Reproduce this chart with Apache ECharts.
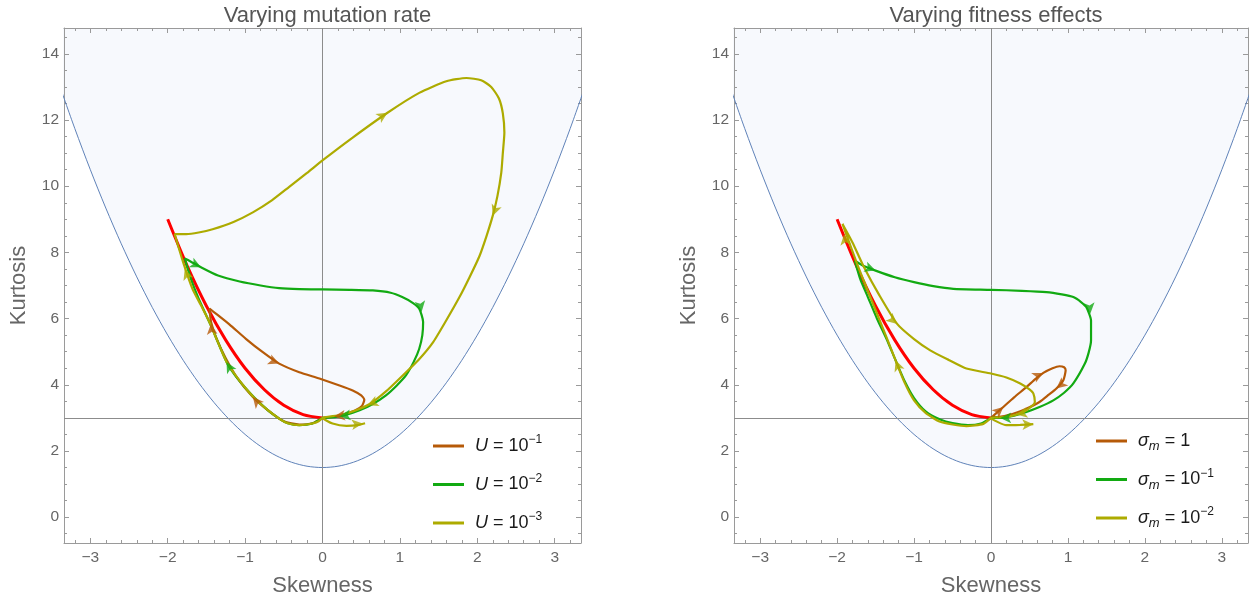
<!DOCTYPE html>
<html><head><meta charset="utf-8">
<script src="https://cdn.jsdelivr.net/npm/echarts@6/dist/echarts.min.js"></script>
<style>html,body{margin:0;padding:0;background:#fff}#c{width:1253px;height:602px}</style>
</head><body><div id="c"></div>
<script>
// ---------- data ----------
const xTickLabels = [-3, -2, -1, 0, 1, 2, 3];
const yTickLabels = [0, 2, 4, 6, 8, 10, 12, 14];
const panelTitles = ['Varying mutation rate', 'Varying fitness effects'];

// lower bound of the admissible region (kurtosis vs skewness)
const boundarySkew = [-3.4,-3.2,-3.0,-2.8,-2.6,-2.4,-2.2,-2.0,-1.8,-1.6,-1.4,-1.2,-1.0,-0.8,-0.6,-0.4,-0.2,0,0.2,0.4,0.6,0.8,1.0,1.2,1.4,1.6,1.8,2.0,2.2,2.4,2.6,2.8,3.0,3.2,3.4];
const boundaryKurt = [13.06,11.74,10.5,9.34,8.26,7.26,6.34,5.5,4.74,4.06,3.46,2.94,2.5,2.14,1.86,1.66,1.54,1.5,1.54,1.66,1.86,2.14,2.5,2.94,3.46,4.06,4.74,5.5,6.34,7.26,8.26,9.34,10.5,11.74,13.06];

// red reference curve
const redSkew = [-2.0,-1.75,-1.5,-1.25,-1.0,-0.75,-0.5,-0.25,0];
const redKurt = [9.0,7.6,6.38,5.35,4.5,3.85,3.38,3.1,3.0];

// left panel trajectories [skewness, kurtosis]
const leftBrown = [[0,3],[-0.13,2.84],[-0.3,2.8],[-0.5,2.9],[-0.7,3.22],[-0.9,3.63],[-1.1,4.2],[-1.25,4.8],[-1.37,5.4],[-1.44,5.9],[-1.46,6.3],
  [-1.36,6.12],[-1.2,5.82],[-0.99,5.39],[-0.78,5.0],[-0.56,4.64],[-0.3,4.38],[-0.04,4.19],[0.22,3.98],[0.39,3.83],[0.5,3.68],[0.54,3.55],[0.51,3.36],[0.42,3.22],[0.31,3.13],[0.15,3.04],[0,3]];
const leftGreen = [[0,3],[-0.13,2.83],[-0.3,2.78],[-0.45,2.84],[-0.56,2.98],[-0.73,3.28],[-0.99,3.89],[-1.22,4.6],[-1.44,5.78],[-1.6,6.6],[-1.7,7.2],[-1.78,7.82],
  [-1.7,7.72],[-1.57,7.55],[-1.35,7.3],[-1.07,7.12],[-0.8,7.0],[-0.56,6.92],[-0.3,6.89],[0,6.88],[0.35,6.87],[0.65,6.85],[0.88,6.78],[1.03,6.65],[1.17,6.47],[1.25,6.3],[1.3,5.9],[1.29,5.5],[1.25,5.09],[1.18,4.7],[1.08,4.29],[0.96,3.98],[0.82,3.68],[0.65,3.42],[0.48,3.23],[0.3,3.09],[0.18,3.03],[0,3]];
const leftOlive = [[0,3],[-0.05,2.9],[-0.13,2.83],[-0.3,2.78],[-0.45,2.84],[-0.56,2.98],[-0.73,3.28],[-0.87,3.58],[-0.99,3.89],[-1.12,4.28],[-1.24,4.69],[-1.35,5.28],[-1.46,5.89],[-1.57,6.4],[-1.68,6.9],[-1.8,7.7],[-1.91,8.55],
  [-1.76,8.55],[-1.6,8.6],[-1.42,8.7],[-1.15,8.92],[-0.9,9.21],[-0.65,9.58],[-0.43,9.98],[-0.2,10.4],[0,10.78],[0.39,11.47],[0.84,12.22],[1.25,12.82],[1.6,13.17],[1.86,13.27],[2.05,13.2],[2.18,13.0],[2.28,12.65],[2.33,12.2],[2.35,11.62],[2.33,11.0],[2.31,10.41],[2.26,9.7],[2.2,9.11],[2.12,8.5],[2.03,7.9],[1.9,7.25],[1.77,6.65],[1.6,5.95],[1.43,5.29],[1.24,4.75],[1.04,4.29],[0.82,3.8],[0.61,3.42],[0.4,3.2],[0.22,3.08],[0,3],
  [0.13,2.83],[0.31,2.76],[0.45,2.78],[0.55,2.84]];

// right panel trajectories
const rightBrown = [[0,3],[0.16,3.33],[0.3,3.62],[0.46,3.93],[0.58,4.18],[0.68,4.36],[0.8,4.5],[0.89,4.56],[0.95,4.53],[0.97,4.44],[0.94,4.14],[0.85,3.89],[0.75,3.7],[0.63,3.48],[0.5,3.32],[0.38,3.2],[0.2,3.07],[0,3]];
const rightGreen = [[0,3],[-0.13,2.83],[-0.3,2.78],[-0.5,2.84],[-0.66,2.95],[-0.85,3.2],[-1.0,3.6],[-1.12,4.1],[-1.24,4.74],[-1.36,5.4],[-1.48,5.99],[-1.6,6.65],[-1.7,7.2],[-1.77,7.75],
  [-1.68,7.62],[-1.5,7.45],[-1.25,7.25],[-1.0,7.1],[-0.75,6.98],[-0.49,6.9],[0,6.87],[0.4,6.84],[0.72,6.8],[0.92,6.73],[1.07,6.65],[1.17,6.5],[1.24,6.34],[1.3,5.94],[1.3,5.34],[1.27,4.98],[1.22,4.64],[1.07,4.04],[0.95,3.76],[0.81,3.53],[0.63,3.33],[0.46,3.18],[0.3,3.07],[0.12,3.0],[0,3]];
const rightOlive = [[0,3],[-0.1,2.82],[-0.32,2.75],[-0.5,2.8],[-0.66,2.88],[-0.85,3.15],[-1.0,3.53],[-1.12,4.05],[-1.24,4.74],[-1.36,5.45],[-1.48,6.14],[-1.62,6.95],[-1.74,7.65],[-1.85,8.35],[-1.93,8.86],
  [-1.8,8.3],[-1.65,7.55],[-1.45,6.7],[-1.22,5.84],[-1.0,5.38],[-0.79,5.04],[-0.55,4.75],[-0.32,4.49],[0,4.34],[0.2,4.22],[0.38,4.04],[0.5,3.86],[0.55,3.74],[0.57,3.48],[0.46,3.23],[0.33,3.1],[0.15,3.02],[0,3],
  [0.2,2.78],[0.38,2.79],[0.55,2.81]];

// arrowheads: [x, y, xAhead, yAhead]
const leftBrownArrows = [[-0.56,4.64,-0.3,4.38],[-0.9,3.63,-1.05,4.05],[-1.44,5.85,-1.46,6.3],[0.15,3.04,0,3]];
const leftGreenArrows = [[-1.57,7.55,-1.35,7.3],[1.28,6.2,1.3,5.9],[0.22,3.05,0.05,3.0],[-1.24,4.69,-1.3,4.95]];
const leftOliveArrows = [[0.84,12.22,1.25,12.82],[2.2,9.11,2.1,8.5],[0.58,3.38,0.4,3.2],[0.52,2.83,0.6,2.85],[-1.78,7.5,-1.85,7.95]];
const rightBrownArrows = [[0.16,3.33,0.3,3.62],[0.68,4.36,0.8,4.5],[0.85,3.89,0.75,3.7]];
const rightGreenArrows = [[-1.5,7.45,-1.3,7.28],[1.29,6.15,1.3,5.9],[0.12,3.0,0,3]];
const rightOliveArrows = [[-1.91,8.55,-1.93,8.86],[-1.22,5.84,-1.1,5.6],[0.33,3.1,0.15,3.02],[0.55,2.81,0.65,2.82],[-1.24,4.74,-1.3,5.1]];

const leftLegend = ['U1','U2','U3'];
const rightLegend = ['S1','S2','S3'];
const legendText = {
  U1: '{i|U} = 10{sup|−1}', U2: '{i|U} = 10{sup|−2}', U3: '{i|U} = 10{sup|−3}',
  S1: '{i|σ}{sub|m} = 1', S2: '{i|σ}{sub|m} = 10{sup|−1}', S3: '{i|σ}{sub|m} = 10{sup|−2}'
};

// ---------- styling ----------
const FONT = '"Liberation Sans", Arial, "DejaVu Sans", sans-serif';
const C = {brown:'#b65a08', green:'#12aa12', olive:'#adab00', red:'#ff0000', bound:'#5f82b8', fill:'#f7f9fd', frame:'#9a9a9a', axis:'#8c8c8c', text:'#666666'};
const X_RANGE = [-3.34, 3.34], Y_RANGE = [-0.78, 14.78];
const grids = [
  {left: 64, top: 28, width: 517, height: 517},
  {left: 734, top: 28, width: 514, height: 515}
];
const minorX = [], minorY = [];
for (let k = -16; k <= 16; k++) { if (k % 5 !== 0) minorX.push(+(k * 0.2).toFixed(2)); }
for (let k = -1; k <= 29; k++) { if (k % 4 !== 0) minorY.push(+(k * 0.5).toFixed(2)); }

function mkAxis(dim, g, pos, values, len, main) {
  const a = {
    type: 'value', gridIndex: g, position: pos,
    min: dim === 'x' ? X_RANGE[0] : Y_RANGE[0], max: dim === 'x' ? X_RANGE[1] : Y_RANGE[1],
    axisLine: {show: main, onZero: false, lineStyle: {color: C.frame, width: 1}},
    axisTick: {show: true, inside: true, length: len, customValues: values, lineStyle: {color: C.frame, width: 1}},
    axisLabel: {show: false},
    splitLine: {show: false}
  };
  if (main && (pos === 'bottom' || pos === 'left')) {
    a.axisLabel = {show: true, customValues: values, color: C.text, fontSize: 15.5, fontFamily: FONT,
      margin: pos === 'bottom' ? 7 : 5,
      formatter: v => (v < 0 ? '−' + Math.abs(v) : String(v))};
    a.name = dim === 'x' ? 'Skewness' : 'Kurtosis';
    a.nameLocation = 'middle';
    a.nameGap = dim === 'x' ? 32 : 34;
    a.nameTextStyle = {color: C.text, fontSize: 22, fontFamily: FONT};
  }
  return a;
}

const xAxis = [], yAxis = [];
for (let g = 0; g < 2; g++) {
  xAxis.push(mkAxis('x', g, 'bottom', xTickLabels, 5, true));
  xAxis.push(mkAxis('x', g, 'bottom', minorX, 3, false));
  xAxis.push(mkAxis('x', g, 'top', xTickLabels, 5, true));
  xAxis.push(mkAxis('x', g, 'top', minorX, 3, false));
  yAxis.push(mkAxis('y', g, 'left', yTickLabels, 5, true));
  yAxis.push(mkAxis('y', g, 'left', minorY, 3, false));
  yAxis.push(mkAxis('y', g, 'right', yTickLabels, 5, true));
  yAxis.push(mkAxis('y', g, 'right', minorY, 3, false));
}

const series = [];
const arrowSeries = [];
function addPanel(g, traj, arrows, names) {
  const xi = 4 * g, yi = 4 * g;
  series.push({
    type: 'line', name: 'bound' + g, xAxisIndex: xi, yAxisIndex: yi, z: 0,
    data: boundarySkew.map((s, i) => [s, boundaryKurt[i]]),
    showSymbol: false, symbol: 'none', smooth: 0.3,
    lineStyle: {color: C.bound, width: 1},
    areaStyle: {color: C.fill, opacity: 1, origin: 'end'},
    markLine: {silent: true, symbol: ['none', 'none'], z: 1, animation: false,
      label: {show: false}, lineStyle: {color: C.axis, width: 1, type: 'solid'},
      data: [{xAxis: 0}, {yAxis: 3}]}
  });
  series.push({
    type: 'line', name: 'red' + g, xAxisIndex: xi, yAxisIndex: yi, z: 2,
    data: redSkew.map((s, i) => [s, redKurt[i]]),
    showSymbol: false, symbol: 'none', smooth: 0.3,
    lineStyle: {color: C.red, width: 3}
  });
  const cols = [C.brown, C.green, C.olive];
  traj.forEach((d, k) => {
    series.push({
      type: 'line', name: names[k], xAxisIndex: xi, yAxisIndex: yi, z: 3,
      data: d, showSymbol: false, symbol: 'none', smooth: 0.2,
      itemStyle: {color: cols[k]},
      lineStyle: {color: cols[k], width: 2.2}
    });
  });
  arrows.forEach((a, k) => {
    const s = {
      type: 'scatter', name: 'arrow' + g + k, xAxisIndex: xi, yAxisIndex: yi, z: 4,
      symbol: 'arrow', symbolSize: [8, 11], silent: true,
      itemStyle: {color: cols[k]},
      data: a.map(p => ({value: [p[0], p[1]], symbolRotate: 0}))
    };
    arrowSeries.push({series: s, pts: a, xi, yi});
    series.push(s);
  });
}
addPanel(0, [leftBrown, leftGreen, leftOlive], [leftBrownArrows, leftGreenArrows, leftOliveArrows], leftLegend);
addPanel(1, [rightBrown, rightGreen, rightOlive], [rightBrownArrows, rightGreenArrows, rightOliveArrows], rightLegend);

const rich = {
  i: {fontSize: 18, lineHeight: 24, fontStyle: 'italic', fontFamily: FONT, color: '#1a1a1a'},
  sup: {fontSize: 12, lineHeight: 12, verticalAlign: 'top', fontFamily: FONT, color: '#1a1a1a'},
  sub: {fontSize: 13, lineHeight: 13, verticalAlign: 'bottom', fontStyle: 'italic', fontFamily: FONT, color: '#1a1a1a'}
};
function mkLegend(names, left, top) {
  return {
    data: names, orient: 'vertical', left: left, top: top, selectedMode: false, padding: 0,
    icon: 'rect', itemWidth: 31, itemHeight: 3, itemGap: 14.5,
    textStyle: {fontSize: 18, lineHeight: 24, fontFamily: FONT, color: '#1a1a1a', padding: [0, 0, 0, 6], rich: rich},
    formatter: n => legendText[n]
  };
}

const option = {
  animation: false,
  backgroundColor: '#ffffff',
  title: panelTitles.map((t, g) => ({
    text: t, left: grids[g].left + grids[g].width / 2, top: 0, textAlign: 'center',
    textStyle: {color: '#555555', fontSize: 22, fontWeight: 'normal', fontFamily: FONT}
  })),
  grid: grids,
  xAxis: xAxis, yAxis: yAxis,
  legend: [mkLegend(leftLegend, 433, 434), mkLegend(rightLegend, 1096, 429)],
  series: series
};

const chart = echarts.init(document.getElementById('c'), null, {renderer: 'canvas'});
chart.setOption(option);
// rotate arrowheads along the path direction (in pixel space)
arrowSeries.forEach(o => {
  o.series.data = o.pts.map(p => {
    const a = chart.convertToPixel({xAxisIndex: o.xi, yAxisIndex: o.yi}, [p[0], p[1]]);
    const b = chart.convertToPixel({xAxisIndex: o.xi, yAxisIndex: o.yi}, [p[2], p[3]]);
    const dx = b[0] - a[0], dy = b[1] - a[1];
    return {value: [p[0], p[1]], symbolRotate: Math.atan2(-dx, -dy) * 180 / Math.PI};
  });
});
chart.setOption({series: series});
</script>
</body></html>
